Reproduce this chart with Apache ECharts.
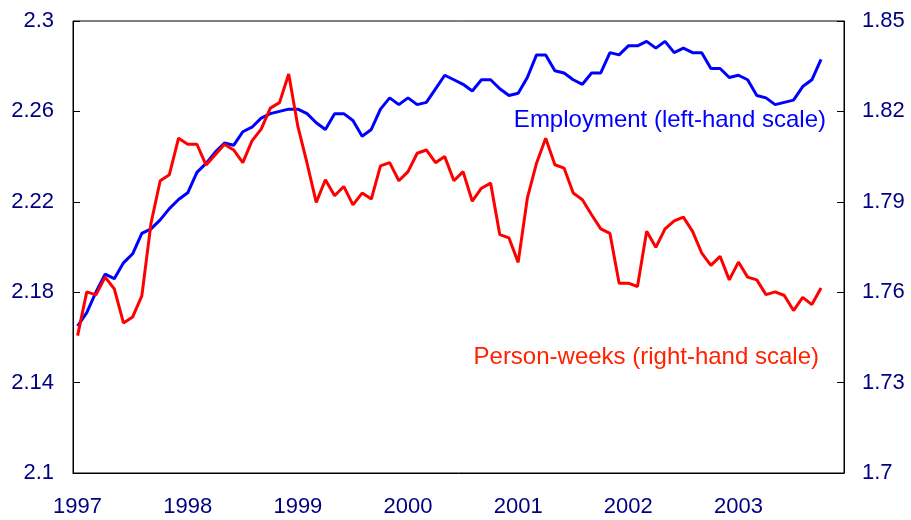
<!DOCTYPE html>
<html>
<head>
<meta charset="utf-8">
<script src="https://cdn.jsdelivr.net/npm/echarts@6/dist/echarts.min.js"></script>
<style>
  html, body { margin: 0; padding: 0; background: #fff; }
  #main { width: 911px; height: 520px; }
</style>
</head>
<body>
<div id="main"></div>
<script>
// years on the axis, monthly observations Jan 1997 - Oct 2003
var years = ['1997', '1998', '1999', '2000', '2001', '2002', '2003'];
var leftTicks = [2.1, 2.14, 2.18, 2.22, 2.26, 2.3];
var rightTicks = [1.7, 1.73, 1.76, 1.79, 1.82, 1.85];

// Employment (left-hand scale)
var employment = [
  2.165, 2.171, 2.180, 2.188, 2.186, 2.193, 2.197, 2.206, 2.208, 2.212, 2.217, 2.221,
  2.224, 2.233, 2.237, 2.242, 2.246, 2.245, 2.251, 2.253, 2.257, 2.259, 2.260, 2.261,
  2.261, 2.259, 2.255, 2.252, 2.259, 2.259, 2.256, 2.249, 2.252, 2.261, 2.266, 2.263,
  2.266, 2.263, 2.264, 2.270, 2.276, 2.274, 2.272, 2.269, 2.274, 2.274, 2.270, 2.267,
  2.268, 2.275, 2.285, 2.285, 2.278, 2.277, 2.274, 2.272, 2.277, 2.277, 2.286, 2.285,
  2.289, 2.289, 2.291, 2.288, 2.291, 2.286, 2.288, 2.286, 2.286, 2.279, 2.279, 2.275,
  2.276, 2.274, 2.267, 2.266, 2.263, 2.264, 2.265, 2.271, 2.274, 2.283
];

// Person-weeks (right-hand scale)
var personWeeks = [
  1.7456, 1.7601, 1.7591, 1.7650, 1.7611, 1.7498, 1.7518, 1.7588, 1.7829, 1.7970, 1.7990, 1.8111,
  1.8091, 1.8091, 1.8022, 1.8056, 1.8091, 1.8072, 1.8030, 1.8102, 1.8141, 1.8211, 1.8229, 1.8324,
  1.8150, 1.8028, 1.7898, 1.7973, 1.7920, 1.7951, 1.7890, 1.7929, 1.7909, 1.8019, 1.8030, 1.7970,
  1.8000, 1.8061, 1.8072, 1.8030, 1.8050, 1.7970, 1.8000, 1.7902, 1.7945, 1.7962, 1.7791, 1.7780,
  1.7699, 1.7912, 1.8028, 1.8111, 1.8023, 1.8012, 1.7929, 1.7907, 1.7857, 1.7810, 1.7795, 1.7630,
  1.7630, 1.7619, 1.7802, 1.7749, 1.7810, 1.7837, 1.7849, 1.7802, 1.7730, 1.7689, 1.7719, 1.7641,
  1.7700, 1.7650, 1.7641, 1.7592, 1.7601, 1.7589, 1.7539, 1.7583, 1.7559, 1.7614
];

var months = [];
years.forEach(function (y) {
  for (var m = 1; m <= 12; m++) months.push(y + '-' + (m < 10 ? '0' + m : m));
});

var font = 'Liberation Sans, Arial, sans-serif';
var navy = '#000080';

var chart = echarts.init(document.getElementById('main'));
var option = {
  animation: false,
  grid: { left: 73, right: 67, top: 21, bottom: 47, show: true, borderColor: '#000', borderWidth: 1 },
  xAxis: {
    type: 'category',
    data: months,
    boundaryGap: true,
    axisLine: { lineStyle: { color: '#000', width: 1 } },
    axisTick: {
      inside: true, length: 8, lineStyle: { color: '#000' },
      interval: function (i) { return i % 12 === 0; }
    },
    axisLabel: {
      interval: function (i) { return i % 12 === 0; },
      formatter: function (v) { return v.slice(0, 4); },
      color: navy, fontSize: 22, fontFamily: font, margin: 23
    },
    splitLine: { show: false }
  },
  yAxis: [{
    type: 'value', position: 'left', min: 2.1, max: 2.3,
    axisLine: { show: true, lineStyle: { color: '#000', width: 1 } },
    axisTick: { show: true, inside: true, length: 7, customValues: leftTicks, lineStyle: { color: '#000' } },
    axisLabel: { customValues: leftTicks, color: navy, fontSize: 22, fontFamily: font, margin: 19 },
    splitLine: { show: false }
  }, {
    type: 'value', position: 'right', min: 1.7, max: 1.85,
    axisLine: { show: true, lineStyle: { color: '#000', width: 1 } },
    axisTick: { show: true, inside: true, length: 7, customValues: rightTicks, lineStyle: { color: '#000' } },
    axisLabel: { customValues: rightTicks, color: navy, fontSize: 22, fontFamily: font, margin: 18 },
    splitLine: { show: false }
  }],
  series: [{
    name: 'Employment', type: 'line', yAxisIndex: 0, data: employment,
    showSymbol: false, lineStyle: { color: '#0000ff', width: 3 }, itemStyle: { color: '#0000ff' }
  }, {
    name: 'Person-weeks', type: 'line', yAxisIndex: 1, data: personWeeks,
    showSymbol: false, lineStyle: { color: '#ff0000', width: 3 }, itemStyle: { color: '#ff0000' }
  }],
  graphic: [{
    type: 'text', x: 826, y: 120,
    style: { text: 'Employment (left-hand scale)', fill: '#0000ff', fontSize: 24, fontFamily: font,
      textAlign: 'right', textVerticalAlign: 'middle' }
  }, {
    type: 'text', x: 819, y: 357,
    style: { text: 'Person-weeks (right-hand scale)', fill: '#ff2200', fontSize: 24, fontFamily: font,
      textAlign: 'right', textVerticalAlign: 'middle' }
  }]
};
chart.setOption(option);
</script>
</body>
</html>
